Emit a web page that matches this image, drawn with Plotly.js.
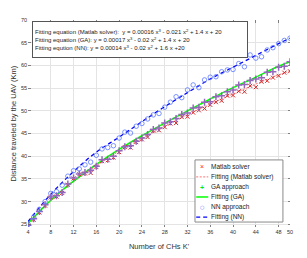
<!DOCTYPE html>
<html>
<head>
<meta charset="utf-8">
<script src="https://cdn.plot.ly/plotly-3.0.1.min.js"></script>
<style>html,body{margin:0;padding:0;background:#fff}#chart{width:307px;height:258px}</style>
</head>
<body>
<div id="chart"></div>
<script>
// Number of CHs K'
const kValues = [4,5,6,7,8,9,10,11,12,13,14,15,16,17,18,19,20,21,22,23,24,25,26,27,28,29,30,31,32,33,34,35,36,37,38,39,40,41,42,43,44,45,46,47,48,49,50];
// Distance (Km) - Matlab solver
const matlabVals = [24.7,26.0,27.6,29.1,30.9,31.1,31.9,33.7,35.1,36.0,36.2,36.3,37.6,38.9,39.1,39.7,40.9,42.0,41.9,43.1,43.7,44.2,45.6,45.7,46.4,47.2,47.3,48.6,48.7,49.6,50.1,50.5,51.3,51.9,52.2,53.3,53.4,54.3,54.2,55.5,55.2,56.4,56.6,57.3,57.7,58.4,58.7];
// Distance (Km) - GA approach
const gaVals = [24.8,26.2,27.8,29.3,31.0,31.3,32.0,33.9,35.2,36.1,36.4,36.9,37.8,39.2,39.3,40.0,41.2,42.1,42.3,43.3,44.0,44.8,45.9,46.2,47.3,47.6,48.3,49.2,49.5,50.6,50.8,51.9,52.0,53.1,53.3,54.2,54.6,55.7,55.8,56.7,57.0,57.3,58.5,58.6,59.6,59.8,60.8];
// Distance (Km) - NN approach
const nnVals = [25.0,26.6,28.3,30.0,31.8,32.2,33.6,35.6,36.8,37.2,38.1,38.7,40.2,41.6,41.9,42.3,44.0,45.3,45.1,46.6,47.2,48.2,49.1,49.4,50.8,51.9,53.1,52.9,54.6,55.7,55.1,56.8,57.4,57.5,58.6,59.0,59.1,60.4,59.7,62.3,61.6,61.9,63.4,63.9,64.8,65.5,66.0];
// Fitted curves
const fitX = [4,8,12,16,20,24,28,32,36,40,44,48,50];
const fitMatlab = [25.1,30.2,34.4,37.9,41.1,43.9,46.6,49.1,51.5,53.7,55.9,57.9,58.8];
const fitGA = [25.2,30.3,34.5,38.2,41.5,44.5,47.3,50.0,52.6,55.1,57.4,59.8,60.8];
const fitNN = [25.6,31.6,36.6,40.9,44.2,47.6,50.9,54.0,57.0,59.6,62.2,64.8,66.0];
// Axis ticks
const xTicks = [4,8,12,16,20,24,28,32,36,40,44,48,50];
const yTicks = [25,30,35,40,45,50,55,60,65,70];
// Texts
const equationLines = [
  "Fitting equation (Matlab solver):  y = 0.00016 x<sup>3</sup> - 0.021 x<sup>2</sup> + 1.4 x + 20",
  "Fitting equation (GA): y = 0.00017 x<sup>3</sup> - 0.02 x<sup>2</sup> + 1.4 x + 20",
  "Fitting eqution (NN): y = 0.00014 x<sup>3</sup> - 0.02 x<sup>2</sup> + 1.6 x +20"
];
const legendNames = ["Matlab solver","Fitting (Matlab solver)","GA approach","Fitting (GA)","NN approach","Fitting (NN)"];

const FONT = "Liberation Sans, Arial, sans-serif";
const RED = "#ff2020", GREEN = "#00ee00", BLUE = "#0000ff", CIRC = "#5a78ff";

const traces = [
  {x: fitX, y: fitMatlab, mode: "lines", line: {color: "#ff7070", width: 1, dash: "2px,1.5px", shape: "spline"}, name: legendNames[1]},
  {x: fitX, y: fitGA, mode: "lines", line: {color: "#00ff00", width: 1.5, shape: "spline"}, name: legendNames[3]},
  {x: fitX, y: fitNN, mode: "lines", line: {color: BLUE, width: 1.3, dash: "4px,3px", shape: "spline"}, name: legendNames[5]},
  {x: kValues, y: matlabVals, mode: "markers", marker: {symbol: "x-thin-open", size: 4, line: {color: RED, width: 1}}, name: legendNames[0]},
  {x: kValues, y: gaVals, mode: "markers", marker: {symbol: "cross-thin-open", size: 5, line: {color: GREEN, width: 1.5}}, name: legendNames[2]},
  {x: kValues, y: nnVals, mode: "markers", marker: {symbol: "circle-open", size: 4.5, color: CIRC, line: {color: CIRC, width: 0.8}}, name: legendNames[4]}
];

// manual legend (paper coordinates)
const lgX0 = 0.6374, lgX1 = 0.973, lgY0 = 0.024, lgY1 = 0.324;
const rowY = [0.290, 0.242, 0.193, 0.145, 0.097, 0.048];
const symX0 = 0.642, symX1 = 0.688, symXc = 0.665, txtX = 0.690;
const shapes = [
  {type: "rect", xref: "paper", yref: "paper", x0: lgX0, x1: lgX1, y0: lgY0, y1: lgY1, line: {color: "#8a8a8a", width: 1}, fillcolor: "#fff", layer: "above"},
  {type: "line", xref: "paper", yref: "paper", x0: symX0, x1: symX1, y0: rowY[1], y1: rowY[1], line: {color: "#ff7070", width: 1, dash: "2px,1.5px"}, layer: "above"},
  {type: "line", xref: "paper", yref: "paper", x0: symX0, x1: symX1, y0: rowY[3], y1: rowY[3], line: {color: "#00ff00", width: 1.5}, layer: "above"},
  {type: "line", xref: "paper", yref: "paper", x0: symX0, x1: symX1, y0: rowY[5], y1: rowY[5], line: {color: BLUE, width: 1.3, dash: "4px,3px"}, layer: "above"}
];
const annotations = [];
legendNames.forEach((n, i) => {
  annotations.push({xref: "paper", yref: "paper", x: txtX, y: rowY[i], xanchor: "left", yanchor: "middle", showarrow: false, text: n, font: {family: FONT, size: 6.5, color: "#222"}});
});
annotations.push({xref: "paper", yref: "paper", x: symXc, y: rowY[0], xanchor: "center", yanchor: "middle", showarrow: false, text: "×", font: {family: FONT, size: 7, color: RED}});
annotations.push({xref: "paper", yref: "paper", x: symXc, y: rowY[2], xanchor: "center", yanchor: "middle", showarrow: false, text: "<b>+</b>", font: {family: FONT, size: 7, color: GREEN}});
annotations.push({xref: "paper", yref: "paper", x: symXc, y: rowY[4], xanchor: "center", yanchor: "middle", showarrow: false, text: "○", font: {family: "DejaVu Sans", size: 5, color: CIRC}});
// equation box
annotations.push({xref: "paper", yref: "paper", x: 0.015, y: 0.995, xanchor: "left", yanchor: "top", showarrow: false, align: "left",
  text: equationLines.join("<br>"), font: {family: FONT, size: 6, color: "#222"},
  bordercolor: "#555", borderwidth: 1, borderpad: 2, bgcolor: "#fff", width: 210, height: 31});

const axisCommon = {
  showgrid: true, gridcolor: "#e4e4e4", gridwidth: 1, zeroline: false,
  ticks: "inside", ticklen: 2.5, tickcolor: "#666", tickwidth: 0.8,
  showline: false, mirror: "ticks",
  tickfont: {family: FONT, size: 5.5, color: "#333"}
};

const layout = {
  width: 307, height: 258,
  margin: {l: 28, r: 17, t: 20, b: 31},
  paper_bgcolor: "#fff", plot_bgcolor: "#fff",
  showlegend: false,
  xaxis: Object.assign({}, axisCommon, {
    range: [4, 50], tickmode: "array", tickvals: xTicks, ticktext: xTicks.map(String),
    title: {text: "Number of CHs K'", font: {family: FONT, size: 7.5, color: "#333"}, standoff: 10}
  }),
  yaxis: Object.assign({}, axisCommon, {
    range: [24.4, 70], tickmode: "array", tickvals: yTicks, ticktext: yTicks.map(String),
    title: {text: "Distance traveled by the UAV (Km)", font: {family: FONT, size: 7.5, color: "#333"}, standoff: 3}
  }),
  shapes: shapes,
  annotations: annotations
};

Plotly.newPlot("chart", traces, layout, {displayModeBar: false, staticPlot: true});
</script>
</body>
</html>
